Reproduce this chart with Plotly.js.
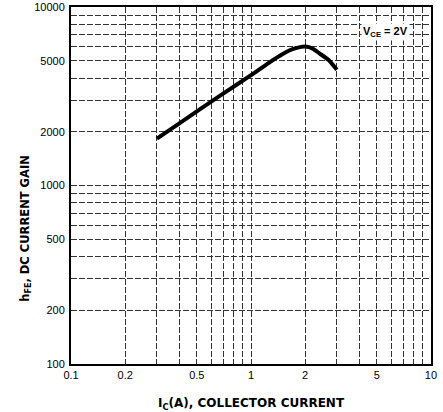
<!DOCTYPE html>
<html>
<head>
<meta charset="utf-8">
<script src="https://cdn.plot.ly/plotly-3.0.1.min.js"></script>
<style>html,body{margin:0;padding:0;background:#fff;}#chart{width:443px;height:412px;}</style>
</head>
<body>
<div id="chart"></div>
<script>
// Collector current IC (A)
const icValues = [0.3, 0.4, 0.5, 0.7, 1.0, 1.25, 1.5, 1.7, 1.9, 2.0, 2.2, 2.4, 2.7, 3.0];
// DC current gain hFE at VCE = 2V
const hfeValues = [1830, 2230, 2600, 3270, 4150, 4850, 5450, 5800, 5980, 6000, 5850, 5500, 5050, 4450];

const xLabeled = [0.1, 0.2, 0.5, 1, 2, 5, 10];
const xMinor = [0.3, 0.4, 0.6, 0.7, 0.8, 0.9, 3, 4, 6, 7, 8, 9];
const yLabeled = [100, 200, 500, 1000, 2000, 5000, 10000];
const yMinor = [300, 400, 600, 700, 800, 900, 3000, 4000, 6000, 7000, 8000, 9000];

const font = {family: 'Liberation Sans, Arial, sans-serif', color: '#000'};
const titleFont = {family: 'DejaVu Sans, Liberation Sans, sans-serif', color: '#000', size: 11.5};
const gridStyle = {showgrid: true, gridcolor: '#333', gridwidth: 1, griddash: '6px,2px'};

const trace = {
  x: icValues, y: hfeValues, type: 'scatter', mode: 'lines',
  line: {color: '#000', width: 4, shape: 'spline', smoothing: 0.5},
  hoverinfo: 'skip'
};

const layout = {
  width: 443, height: 412,
  margin: {l: 71, r: 12, t: 7, b: 48},
  paper_bgcolor: '#fff', plot_bgcolor: '#fff',
  showlegend: false,
  font: Object.assign({size: 11}, font),
  xaxis: Object.assign({
    type: 'log', range: [-1.0001, 1.0001],
    tickmode: 'array', tickvals: xLabeled, ticktext: xLabeled.map(String),
    minor: Object.assign({tickmode: 'array', tickvals: xMinor, ticks: ''}, gridStyle),
    ticks: '', showline: true, linecolor: '#000', linewidth: 2, mirror: true,
    zeroline: false, tickfont: Object.assign({size: 11}, font), ticklabeloverflow: 'allow',
    title: {text: '<b>I<sub>C</sub>(A), COLLECTOR CURRENT</b>', font: Object.assign({}, titleFont, {size: 12}), standoff: 20}
  }, gridStyle),
  yaxis: Object.assign({
    type: 'log', range: [1.9999, 4.0001],
    tickmode: 'array', tickvals: yLabeled, ticktext: yLabeled.map(String),
    minor: Object.assign({tickmode: 'array', tickvals: yMinor, ticks: ''}, gridStyle),
    ticks: '', showline: true, linecolor: '#000', linewidth: 2, mirror: true,
    zeroline: false, tickfont: Object.assign({size: 11}, font), ticklabelstandoff: 2,
    ticklabeloverflow: 'allow'
  }, gridStyle),
  annotations: [{
    x: Math.log10(5.6), y: Math.log10(7200), xref: 'x', yref: 'y',
    text: '<b>V<sub>CE</sub> = 2V</b>', showarrow: false,
    font: Object.assign({size: 11}, font), bgcolor: '#fff', borderpad: 1
  }, {
    x: -0.153, y: 0.38, xref: 'paper', yref: 'paper',
    text: '<b>h<sub>FE</sub>, DC CURRENT GAIN</b>', showarrow: false, textangle: -90,
    font: titleFont
  }]
};

Plotly.newPlot('chart', [trace], layout, {displayModeBar: false, staticPlot: true});
</script>
</body>
</html>
